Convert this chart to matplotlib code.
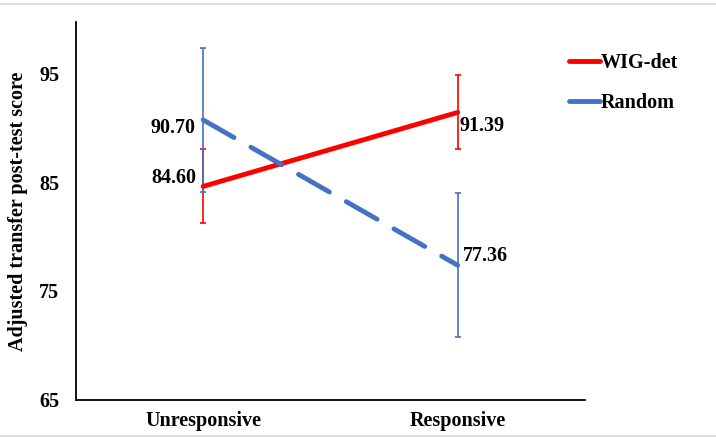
import matplotlib
matplotlib.use("Agg")
import matplotlib.pyplot as plt
from matplotlib.lines import Line2D

# data
groups = ["Unresponsive", "Responsive"]
wig_det = [84.60, 91.39]
wig_err = [3.4, 3.4]
random_vals = [90.70, 77.36]
random_err = [6.6, 6.6]
y_ticks = [65, 75, 85, 95]

RED = "#ff0000"
BLUE = "#4472c4"
FS = 14.5

plt.rcParams["font.family"] = ["Liberation Serif", "DejaVu Serif"]
plt.rcParams["font.weight"] = "bold"

fig = plt.figure(figsize=(7.16, 4.38), dpi=100)
ax = fig.add_axes([0.106, 0.087, 0.711, 0.863])

xs = list(range(len(groups)))

# error bars first, thin
ax.errorbar(xs, wig_det, yerr=wig_err, fmt="none", ecolor=RED, elinewidth=1.2,
            capsize=2.5, capthick=1.2, zorder=2)
ax.errorbar(xs, random_vals, yerr=random_err, fmt="none", ecolor=BLUE, elinewidth=1.2,
            capsize=2.5, capthick=1.2, zorder=2)

ax.plot(xs, wig_det, color=RED, lw=3.5, solid_capstyle="round", label="WIG-det", zorder=3)
ax.plot(xs, random_vals, color=BLUE, lw=3.5, dashes=(7.3, 4.0), dash_capstyle="round",
        label="Random", zorder=3)

# value labels
ax.annotate(f"{wig_det[0]:.2f}", (xs[0], wig_det[0]), xytext=(-5, 6), textcoords="offset points",
            ha="right", va="center", fontsize=FS, fontweight="bold")
ax.annotate(f"{random_vals[0]:.2f}", (xs[0], random_vals[0]), xytext=(-5.5, -6), textcoords="offset points",
            ha="right", va="center", fontsize=FS, fontweight="bold")
ax.annotate(f"{wig_det[1]:.2f}", (xs[1], wig_det[1]), xytext=(1, -9.5), textcoords="offset points",
            ha="left", va="center", fontsize=FS, fontweight="bold")
ax.annotate(f"{random_vals[1]:.2f}", (xs[1], random_vals[1]), xytext=(3.5, 6.5), textcoords="offset points",
            ha="left", va="center", fontsize=FS, fontweight="bold")

ax.set_xlim(-0.5, 1.5)
ax.set_ylim(65, 99.7)
ax.set_xticks(xs)
ax.set_xticklabels(groups)
ax.set_yticks(y_ticks)
ax.tick_params(axis="x", length=0, labelsize=FS, pad=8)
ax.tick_params(axis="y", length=0, labelsize=FS, pad=12)
for lab in ax.get_xticklabels() + ax.get_yticklabels():
    lab.set_fontweight("bold")
ax.set_ylabel("Adjusted transfer post-test score", fontsize=FS, fontweight="bold", labelpad=8)

for s in ["top", "right"]:
    ax.spines[s].set_visible(False)
ax.spines["left"].set_linewidth(1.3)
ax.spines["bottom"].set_linewidth(1.3)

leg = fig.legend(loc="upper left", bbox_to_anchor=(0.77, 0.92), frameon=False,
                 handlelength=1.5, handletextpad=0.05, labelspacing=1.0,
                 prop={"size": FS, "weight": "bold"})
for h in leg.get_lines():
    h.set_linewidth(3.5)
    h.set_linestyle("-")
    h.set_solid_capstyle("round")

# thin grey frame lines at top/bottom of the image
fig.add_artist(Line2D([0, 1], [0.99, 0.99], color="#d9d9d9", lw=1.2, transform=fig.transFigure))
fig.add_artist(Line2D([0, 1], [0.004, 0.004], color="#d9d9d9", lw=1.2, transform=fig.transFigure))

fig.savefig("out.png", dpi=100)
